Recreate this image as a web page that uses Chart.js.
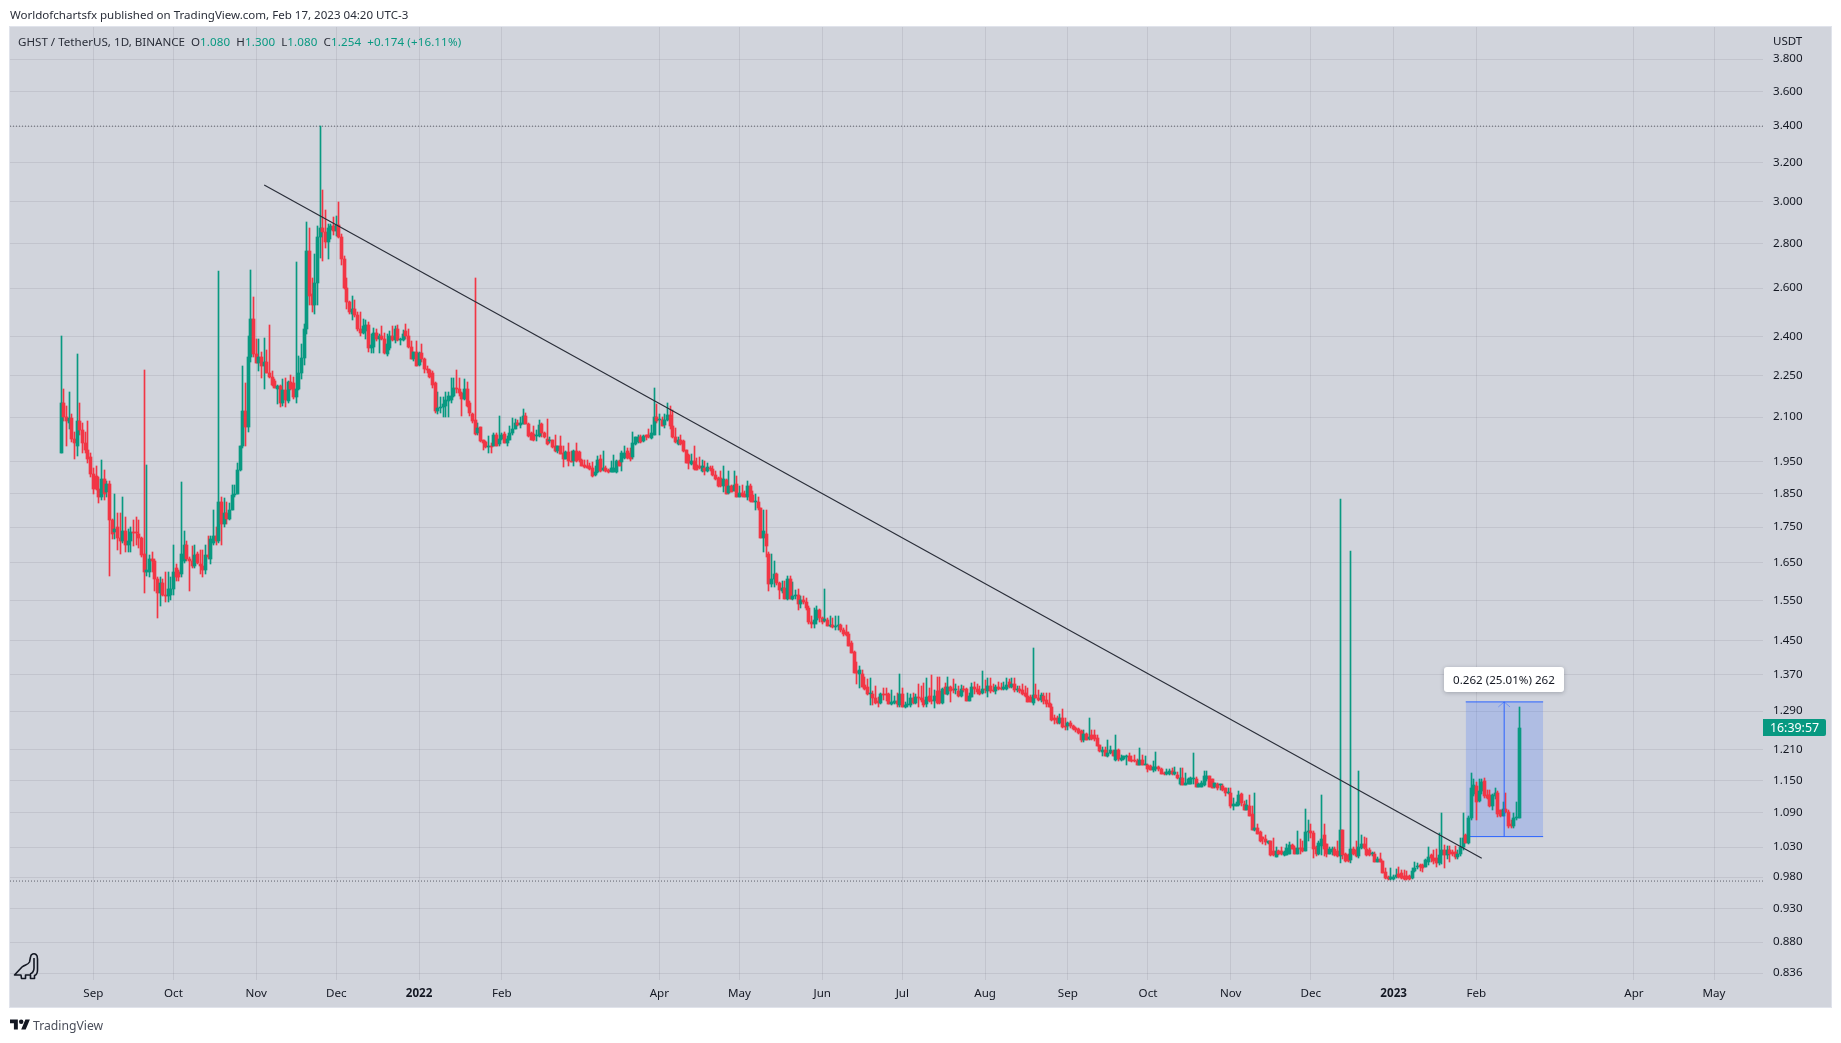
<!DOCTYPE html>
<html><head><meta charset="utf-8">
<script src="https://cdn.jsdelivr.net/npm/chart.js@4/dist/chart.umd.min.js"></script>
<style>
html,body{margin:0;padding:0;background:#fff;width:1841px;height:1043px;overflow:hidden;font-family:"Noto Sans",sans-serif;color:#131722}
#pane{position:absolute;left:10px;top:27px;width:1821px;height:980px;background:#D1D4DC;box-shadow:0 0 0 1px #E0E3EB}
canvas{position:absolute;left:0;top:0}
.t{position:absolute;white-space:pre;font-size:11.55px;line-height:16px}
.g{color:#089981;letter-spacing:.12px}
#tag{position:absolute;left:1763px;top:719px;width:63px;height:17px;background:#089981;color:#fff;border-radius:0 2px 2px 0;font-size:12.4px;line-height:17px;text-align:center}
#mbox{position:absolute;left:1444px;top:667px;width:120px;height:25px;background:#fff;border-radius:3px;box-shadow:0 1px 4px rgba(19,23,34,.25);font-size:11.6px;line-height:25px;text-align:center}
svg{position:absolute;left:0;top:0}
</style></head><body>
<div id="pane"></div>
<canvas id="c" width="1841" height="1043"></canvas>
<div class="t" style="left:10px;top:7px;color:#2a2e39">Worldofchartsfx published on TradingView.com, Feb 17, 2023 04:20 UTC-3</div>
<div class="t" style="left:18px;top:34px;color:#2a2e39;font-size:11.6px">GHST / TetherUS, 1D, BINANCE  O<span class="g">1.080</span>  H<span class="g">1.300</span>  L<span class="g">1.080</span>  C<span class="g">1.254</span>  <span class="g">+0.174 (+16.11%)</span></div>
<div class="t" style="left:1773px;top:33px;color:#131722">USDT</div>
<div id="tag">16:39:57</div>
<div id="mbox">0.262 (25.01%) 262</div>
<div class="t" style="left:33px;top:1017px;font-size:12.2px;line-height:18px;color:#4a4e5a">TradingView</div>
<svg width="1841" height="1043" viewBox="0 0 1841 1043" fill="none">
<path d="M14.5 975 L22 967 C25 964.5 28 965 29.5 962 L30.5 957 C31 954 34 953 36 954.5 C37.5 955.5 37.5 957 37.5 959 L37.5 970 C37.5 973 36 975 34.5 975.5 L34.5 978.5 L30.5 978.5 L30.5 975 L25.5 975 L25.5 978.5 L21.5 978.5 L21 975 Z M34 958 L34 968 C34 971 32.5 973 30 974" stroke="#131722" stroke-width="1.6" stroke-linejoin="round"/>
<g transform="translate(10,1017.2) scale(0.56)" fill="#131722"><path d="M14 22H7V11H0V4h14v18zM28 22h-8l7.5-18h8L28 22z"/><circle cx="20" cy="8" r="4"/></g>
</svg>
<script>
const aug21=[[1.98,2.40,1.98,2.15],[2.15,2.20,2.085,2.10],[2.10,2.14,2.00,2.085],[2.08,2.19,2.06,2.095],[2.095,2.11,2.015,2.025],[2.025,2.05,1.96,2.01],[2.00,2.33,1.97,2.085],[2.085,2.15,2.04,2.055],[2.055,2.08,1.98,2.01],[2.01,2.05,1.98,1.99],[1.99,2.085,1.945,1.96],[1.966,1.98,1.90,1.91]];
const sep21=[[1.91,1.93,1.85,1.865],[1.905,1.935,1.86,1.865],[1.865,1.90,1.82,1.84],[1.84,1.955,1.83,1.895],[1.895,1.925,1.83,1.85],[1.855,1.89,1.84,1.88],[1.88,1.89,1.615,1.77],[1.77,1.775,1.715,1.73],[1.735,1.85,1.715,1.745],[1.75,1.79,1.685,1.72],[1.72,1.79,1.675,1.71],[1.71,1.84,1.705,1.74],[1.74,1.78,1.68,1.70],[1.70,1.745,1.68,1.71],[1.71,1.75,1.68,1.735],[1.735,1.77,1.695,1.733],[1.735,1.78,1.70,1.732],[1.73,1.77,1.69,1.72],[1.72,1.722,1.665,1.67],[1.675,2.27,1.57,1.625],[1.625,1.94,1.615,1.63],[1.625,1.67,1.61,1.66],[1.66,1.68,1.625,1.655],[1.655,1.66,1.575,1.605],[1.605,1.61,1.505,1.57],[1.57,1.61,1.535,1.595],[1.595,1.605,1.56,1.565],[1.565,1.625,1.545,1.56],[1.56,1.625,1.545,1.58],[1.565,1.61,1.55,1.58]];
const oct21=[[1.58,1.70,1.565,1.625],[1.635,1.645,1.60,1.61],[1.625,1.63,1.60,1.61],[1.62,1.885,1.61,1.675],[1.655,1.74,1.65,1.70],[1.70,1.71,1.655,1.66],[1.66,1.665,1.575,1.655],[1.655,1.695,1.635,1.64],[1.64,1.70,1.635,1.67],[1.675,1.68,1.645,1.65],[1.645,1.685,1.62,1.64],[1.64,1.685,1.61,1.63],[1.63,1.70,1.62,1.67],[1.67,1.725,1.66,1.665],[1.66,1.725,1.645,1.715],[1.705,1.80,1.70,1.725],[1.725,1.75,1.70,1.71],[1.71,2.675,1.705,1.825],[1.825,1.84,1.70,1.76],[1.76,1.835,1.75,1.79],[1.79,1.825,1.76,1.775],[1.775,1.82,1.77,1.80],[1.80,1.875,1.80,1.845],[1.845,1.875,1.84,1.85],[1.85,1.945,1.85,1.925],[1.925,2.00,1.92,2.00],[2.00,2.285,1.995,2.12],[2.12,2.22,2.00,2.065],[2.065,2.40,2.05,2.32],[2.32,2.68,2.30,2.47],[2.47,2.56,2.32,2.33]];
const nov21=[[2.33,2.39,2.295,2.295],[2.295,2.39,2.265,2.32],[2.32,2.34,2.24,2.285],[2.285,2.395,2.20,2.30],[2.30,2.345,2.26,2.26],[2.26,2.445,2.24,2.245],[2.245,2.265,2.21,2.215],[2.23,2.235,2.205,2.205],[2.20,2.215,2.145,2.21],[2.21,2.215,2.135,2.15],[2.15,2.235,2.14,2.195],[2.195,2.24,2.135,2.16],[2.155,2.23,2.15,2.225],[2.225,2.25,2.195,2.20],[2.22,2.245,2.165,2.17],[2.17,2.715,2.15,2.20],[2.20,2.325,2.195,2.26],[2.26,2.37,2.235,2.315],[2.315,2.45,2.29,2.43],[2.43,2.90,2.41,2.765],[2.765,2.87,2.53,2.565],[2.575,2.645,2.50,2.53],[2.53,2.75,2.49,2.62],[2.62,2.88,2.53,2.83],[2.83,3.40,2.735,2.87],[2.87,3.06,2.72,2.855],[2.855,2.96,2.78,2.805],[2.805,2.89,2.73,2.87],[2.865,2.89,2.82,2.88],[2.88,2.925,2.84,2.86]];
const dec21=[[2.86,2.93,2.835,2.885],[2.885,3.00,2.825,2.83],[2.83,2.845,2.70,2.73],[2.73,2.74,2.595,2.60],[2.60,2.645,2.51,2.54],[2.54,2.545,2.49,2.50],[2.49,2.565,2.465,2.51],[2.51,2.55,2.48,2.485],[2.485,2.50,2.42,2.43],[2.43,2.50,2.40,2.415],[2.415,2.47,2.41,2.44],[2.42,2.465,2.39,2.445],[2.445,2.46,2.34,2.355],[2.355,2.41,2.335,2.365],[2.36,2.435,2.335,2.415],[2.415,2.43,2.38,2.39],[2.39,2.41,2.335,2.40],[2.40,2.44,2.385,2.39],[2.39,2.415,2.33,2.335],[2.33,2.41,2.325,2.37],[2.355,2.42,2.345,2.40],[2.40,2.44,2.38,2.385],[2.385,2.44,2.375,2.43],[2.43,2.445,2.38,2.385],[2.385,2.395,2.365,2.39],[2.385,2.425,2.38,2.41],[2.42,2.45,2.39,2.40],[2.40,2.43,2.355,2.36],[2.36,2.38,2.31,2.31],[2.31,2.34,2.305,2.34],[2.34,2.38,2.285,2.285]];
const jan22=[[2.29,2.34,2.285,2.335],[2.335,2.37,2.30,2.31],[2.31,2.315,2.26,2.275],[2.275,2.285,2.26,2.27],[2.27,2.275,2.24,2.245],[2.26,2.265,2.205,2.215],[2.22,2.225,2.115,2.12],[2.12,2.19,2.11,2.13],[2.13,2.17,2.115,2.135],[2.135,2.17,2.10,2.145],[2.14,2.19,2.10,2.16],[2.155,2.19,2.10,2.175],[2.16,2.24,2.15,2.175],[2.175,2.24,2.17,2.205],[2.205,2.27,2.185,2.20],[2.20,2.24,2.175,2.185],[2.185,2.19,2.105,2.165],[2.165,2.235,2.16,2.20],[2.20,2.225,2.135,2.14],[2.15,2.155,2.105,2.115],[2.11,2.115,2.08,2.085],[2.09,2.645,2.038,2.043],[2.046,2.08,2.04,2.062],[2.065,2.066,2.016,2.018],[2.02,2.02,1.987,2.012],[2.016,2.018,1.996,1.998],[1.998,2.035,1.98,2.003],[2.0,2.012,1.98,1.998],[2.0,2.046,2.0,2.04],[2.04,2.046,2.0,2.003],[2.007,2.103,2.0,2.026]];
const feb22=[[2.026,2.045,2.02,2.04],[2.043,2.05,2.01,2.012],[2.012,2.035,2.0,2.026],[2.023,2.07,2.02,2.046],[2.046,2.095,2.04,2.06],[2.06,2.092,2.058,2.08],[2.08,2.09,2.068,2.073],[2.074,2.10,2.062,2.08],[2.077,2.127,2.075,2.103],[2.103,2.115,2.075,2.077],[2.077,2.08,2.03,2.035],[2.046,2.05,2.02,2.023],[2.043,2.068,2.018,2.023],[2.035,2.057,2.018,2.04],[2.035,2.088,2.03,2.073],[2.077,2.08,2.03,2.046],[2.046,2.05,2.028,2.03],[2.026,2.093,2.005,2.009],[2.017,2.03,2.01,2.02],[2.02,2.02,1.995,1.998],[2.0,2.04,1.983,1.985],[1.985,2.002,1.98,2.0],[2.0,2.035,1.975,1.975],[1.978,2.0,1.933,1.96],[1.96,1.985,1.958,1.983],[1.983,2.01,1.935,1.951],[1.952,1.985,1.948,1.949],[1.951,1.988,1.935,1.984]];
const mar22=[[1.984,2.01,1.948,1.951],[1.982,1.985,1.95,1.955],[1.957,1.96,1.935,1.937],[1.94,1.955,1.929,1.932],[1.937,1.955,1.929,1.931],[1.935,1.945,1.925,1.927],[1.93,1.95,1.90,1.905],[1.907,1.935,1.905,1.917],[1.917,1.97,1.915,1.957],[1.96,1.972,1.918,1.92],[1.925,1.984,1.92,1.93],[1.93,1.935,1.918,1.92],[1.925,1.928,1.914,1.916],[1.917,1.951,1.916,1.929],[1.917,1.972,1.916,1.929],[1.917,1.955,1.915,1.951],[1.951,1.955,1.935,1.937],[1.948,1.984,1.92,1.978],[1.962,2.0,1.96,1.98],[1.984,1.995,1.96,1.962],[1.98,1.995,1.951,1.96],[1.965,2.048,1.96,2.01],[2.008,2.032,2.005,2.03],[2.015,2.038,2.012,2.03],[2.03,2.04,2.012,2.015],[2.018,2.038,2.015,2.035],[2.038,2.04,2.02,2.032],[2.038,2.059,2.028,2.03],[2.028,2.073,2.026,2.045],[2.04,2.204,2.038,2.10],[2.10,2.145,2.08,2.085]];
const apr22=[[2.088,2.11,2.04,2.093],[2.09,2.10,2.068,2.07],[2.072,2.112,2.062,2.09],[2.088,2.15,2.085,2.107],[2.107,2.14,2.06,2.068],[2.068,2.123,2.028,2.03],[2.03,2.062,2.013,2.015],[2.007,2.03,2.005,2.02],[2.02,2.04,2.005,2.007],[2.017,2.02,1.982,1.984],[1.987,1.99,1.945,1.946],[1.972,1.975,1.928,1.946],[1.942,1.975,1.94,1.951],[1.951,2.0,1.925,1.927],[1.94,1.962,1.923,1.925],[1.935,1.967,1.928,1.93],[1.92,1.955,1.918,1.935],[1.93,1.951,1.907,1.92],[1.92,1.946,1.918,1.933],[1.93,1.935,1.92,1.928],[1.927,1.937,1.905,1.909],[1.909,1.92,1.893,1.895],[1.898,1.90,1.87,1.872],[1.898,1.92,1.87,1.872],[1.872,1.935,1.856,1.896],[1.893,1.895,1.848,1.85],[1.852,1.92,1.85,1.874],[1.874,1.876,1.855,1.856],[1.859,1.92,1.857,1.877],[1.879,1.903,1.838,1.84]];
const may22=[[1.84,1.872,1.838,1.852],[1.853,1.875,1.84,1.843],[1.85,1.857,1.838,1.84],[1.84,1.89,1.83,1.872],[1.872,1.88,1.825,1.828],[1.845,1.858,1.825,1.825],[1.825,1.85,1.80,1.828],[1.825,1.84,1.80,1.805],[1.805,1.807,1.72,1.72],[1.72,1.80,1.68,1.74],[1.73,1.80,1.665,1.695],[1.675,1.68,1.573,1.593],[1.593,1.675,1.585,1.605],[1.605,1.655,1.585,1.62],[1.62,1.622,1.59,1.595],[1.595,1.597,1.553,1.577],[1.573,1.60,1.57,1.583],[1.583,1.60,1.553,1.553],[1.553,1.613,1.552,1.605],[1.605,1.615,1.553,1.553],[1.553,1.598,1.552,1.56],[1.56,1.577,1.553,1.562],[1.565,1.58,1.525,1.54],[1.54,1.56,1.53,1.552],[1.552,1.56,1.54,1.545],[1.545,1.557,1.525,1.53],[1.53,1.535,1.49,1.495],[1.495,1.51,1.48,1.49],[1.49,1.53,1.48,1.50],[1.50,1.535,1.49,1.525],[1.525,1.527,1.495,1.505]];
const jun22=[[1.505,1.508,1.49,1.495],[1.498,1.58,1.495,1.502],[1.50,1.505,1.485,1.485],[1.485,1.51,1.483,1.487],[1.487,1.505,1.48,1.482],[1.482,1.51,1.475,1.485],[1.485,1.51,1.475,1.487],[1.487,1.49,1.47,1.475],[1.475,1.48,1.46,1.465],[1.47,1.487,1.46,1.463],[1.465,1.47,1.437,1.437],[1.445,1.45,1.42,1.42],[1.423,1.425,1.375,1.375],[1.378,1.40,1.35,1.375],[1.373,1.39,1.34,1.38],[1.373,1.38,1.343,1.343],[1.348,1.365,1.335,1.338],[1.343,1.36,1.325,1.328],[1.328,1.362,1.303,1.328],[1.328,1.333,1.303,1.318],[1.318,1.345,1.306,1.308],[1.313,1.32,1.30,1.308],[1.308,1.33,1.305,1.328],[1.328,1.34,1.315,1.326],[1.326,1.34,1.312,1.325],[1.328,1.33,1.305,1.305],[1.305,1.335,1.303,1.309],[1.308,1.323,1.305,1.313],[1.313,1.33,1.30,1.306],[1.303,1.373,1.298,1.328]];
const jul22=[[1.328,1.34,1.298,1.298],[1.298,1.31,1.297,1.303],[1.303,1.33,1.298,1.305],[1.303,1.327,1.30,1.318],[1.318,1.33,1.305,1.308],[1.308,1.327,1.305,1.321],[1.32,1.35,1.298,1.318],[1.318,1.345,1.31,1.315],[1.315,1.352,1.30,1.303],[1.306,1.363,1.30,1.321],[1.323,1.34,1.31,1.313],[1.315,1.37,1.305,1.313],[1.313,1.335,1.297,1.323],[1.333,1.365,1.305,1.308],[1.333,1.365,1.305,1.308],[1.308,1.34,1.305,1.338],[1.343,1.352,1.328,1.328],[1.328,1.365,1.325,1.343],[1.343,1.345,1.31,1.333],[1.338,1.36,1.33,1.336],[1.335,1.35,1.328,1.338],[1.333,1.345,1.32,1.323],[1.323,1.347,1.32,1.338],[1.338,1.345,1.332,1.336],[1.338,1.34,1.312,1.313],[1.313,1.33,1.312,1.323],[1.321,1.352,1.32,1.343],[1.343,1.353,1.328,1.338],[1.338,1.35,1.328,1.331],[1.333,1.345,1.326,1.328],[1.33,1.378,1.328,1.338]];
const aug22=[[1.338,1.358,1.33,1.335],[1.333,1.364,1.32,1.346],[1.346,1.362,1.33,1.333],[1.336,1.35,1.331,1.333],[1.333,1.348,1.328,1.343],[1.343,1.355,1.335,1.338],[1.34,1.352,1.335,1.338],[1.338,1.353,1.335,1.343],[1.338,1.363,1.335,1.348],[1.353,1.36,1.34,1.343],[1.343,1.363,1.34,1.35],[1.35,1.363,1.332,1.335],[1.335,1.345,1.332,1.338],[1.338,1.345,1.33,1.333],[1.335,1.35,1.325,1.328],[1.33,1.345,1.32,1.323],[1.323,1.34,1.31,1.31],[1.32,1.325,1.31,1.31],[1.308,1.433,1.303,1.325],[1.325,1.35,1.318,1.318],[1.318,1.335,1.313,1.315],[1.315,1.33,1.31,1.324],[1.322,1.33,1.305,1.312],[1.315,1.33,1.30,1.305],[1.307,1.33,1.30,1.30],[1.30,1.305,1.27,1.272],[1.276,1.282,1.263,1.272],[1.275,1.28,1.263,1.265],[1.265,1.285,1.263,1.276],[1.276,1.295,1.255,1.257],[1.258,1.275,1.25,1.257]];
const sep22=[[1.258,1.268,1.251,1.265],[1.265,1.27,1.255,1.258],[1.258,1.26,1.25,1.252],[1.255,1.257,1.247,1.25],[1.252,1.255,1.243,1.245],[1.248,1.25,1.226,1.23],[1.23,1.25,1.225,1.243],[1.243,1.245,1.23,1.23],[1.232,1.276,1.229,1.237],[1.24,1.25,1.23,1.232],[1.24,1.25,1.228,1.231],[1.233,1.24,1.217,1.217],[1.219,1.22,1.205,1.207],[1.206,1.215,1.197,1.209],[1.209,1.215,1.197,1.197],[1.198,1.23,1.195,1.203],[1.203,1.217,1.202,1.209],[1.208,1.21,1.197,1.197],[1.19,1.24,1.188,1.21],[1.209,1.212,1.188,1.192],[1.19,1.20,1.187,1.193],[1.192,1.198,1.189,1.197],[1.196,1.20,1.18,1.198],[1.198,1.203,1.188,1.188],[1.189,1.198,1.186,1.187],[1.189,1.20,1.186,1.187],[1.188,1.192,1.18,1.18],[1.18,1.213,1.18,1.189],[1.189,1.20,1.18,1.18],[1.179,1.197,1.179,1.18]];
const oct22=[[1.18,1.182,1.167,1.172],[1.178,1.18,1.171,1.171],[1.171,1.187,1.167,1.176],[1.172,1.206,1.169,1.176],[1.176,1.178,1.168,1.172],[1.173,1.175,1.163,1.163],[1.165,1.167,1.161,1.162],[1.162,1.172,1.161,1.166],[1.163,1.172,1.16,1.168],[1.169,1.175,1.16,1.162],[1.162,1.176,1.16,1.166],[1.16,1.166,1.153,1.155],[1.143,1.175,1.142,1.155],[1.155,1.175,1.142,1.142],[1.142,1.165,1.142,1.145],[1.144,1.155,1.143,1.152],[1.144,1.157,1.143,1.155],[1.152,1.203,1.143,1.153],[1.153,1.157,1.138,1.138],[1.138,1.145,1.137,1.144],[1.138,1.15,1.137,1.145],[1.142,1.168,1.14,1.158],[1.152,1.168,1.15,1.158],[1.158,1.159,1.138,1.138],[1.152,1.153,1.136,1.136],[1.137,1.146,1.135,1.146],[1.144,1.146,1.133,1.136],[1.141,1.144,1.133,1.143],[1.14,1.143,1.13,1.132],[1.135,1.136,1.12,1.126],[1.126,1.135,1.124,1.127]];
const nov22=[[1.127,1.135,1.098,1.102],[1.103,1.118,1.095,1.107],[1.103,1.11,1.102,1.107],[1.104,1.13,1.103,1.123],[1.125,1.127,1.103,1.108],[1.107,1.112,1.095,1.095],[1.095,1.113,1.095,1.104],[1.103,1.123,1.085,1.085],[1.088,1.103,1.06,1.06],[1.06,1.126,1.058,1.063],[1.063,1.07,1.053,1.053],[1.056,1.058,1.038,1.04],[1.047,1.047,1.036,1.043],[1.043,1.05,1.034,1.038],[1.037,1.04,1.035,1.04],[1.04,1.04,1.015,1.017],[1.023,1.045,1.015,1.017],[1.014,1.03,1.014,1.024],[1.024,1.025,1.017,1.018],[1.024,1.03,1.017,1.018],[1.017,1.024,1.015,1.022],[1.017,1.035,1.016,1.028],[1.018,1.038,1.018,1.034],[1.034,1.036,1.027,1.027],[1.028,1.032,1.018,1.018],[1.018,1.058,1.018,1.028],[1.028,1.044,1.018,1.027],[1.028,1.04,1.022,1.024],[1.024,1.097,1.024,1.056],[1.056,1.077,1.04,1.058]];
const dec22=[[1.058,1.07,1.045,1.055],[1.055,1.057,1.012,1.027],[1.03,1.032,1.015,1.018],[1.019,1.04,1.017,1.037],[1.032,1.123,1.017,1.044],[1.05,1.07,1.015,1.027],[1.035,1.036,1.013,1.018],[1.018,1.03,1.018,1.026],[1.022,1.03,1.016,1.026],[1.027,1.03,1.015,1.016],[1.024,1.04,1.014,1.015],[1.015,1.833,1.003,1.059],[1.059,1.06,1.01,1.016],[1.019,1.02,1.005,1.007],[1.016,1.018,1.005,1.007],[1.008,1.683,1.003,1.026],[1.026,1.03,1.016,1.018],[1.025,1.04,1.014,1.015],[1.015,1.168,1.012,1.03],[1.028,1.05,1.027,1.036],[1.035,1.048,1.027,1.028],[1.027,1.045,1.015,1.016],[1.025,1.028,1.015,1.016],[1.018,1.022,1.015,1.019],[1.019,1.022,1.005,1.005],[1.005,1.014,1.005,1.009],[1.009,1.02,1.004,1.005],[1.006,1.007,0.987,0.987],[0.988,0.995,0.977,0.978],[0.98,0.982,0.976,0.977],[0.977,0.995,0.976,0.98]];
const jan23=[[0.977,0.983,0.976,0.98],[0.98,0.993,0.978,0.984],[0.985,0.996,0.978,0.98],[0.986,0.992,0.977,0.979],[0.982,0.992,0.976,0.977],[0.982,0.99,0.975,0.977],[0.982,0.983,0.975,0.977],[0.979,0.995,0.977,0.99],[0.99,1.005,0.989,0.995],[0.996,1.003,0.993,0.998],[1.0,1.002,0.99,0.997],[1.0,1.002,0.988,0.995],[0.997,1.01,0.996,1.008],[1.005,1.03,1.0,1.014],[1.016,1.018,1.005,1.011],[1.012,1.025,1.002,1.007],[1.011,1.027,0.996,1.003],[1.003,1.055,1.0,1.016],[1.016,1.09,1.002,1.025],[1.025,1.033,0.995,1.016],[1.017,1.032,1.01,1.025],[1.025,1.032,1.004,1.019],[1.022,1.025,1.015,1.018],[1.021,1.032,1.01,1.013],[1.013,1.025,1.01,1.019],[1.018,1.045,1.015,1.03],[1.03,1.09,1.025,1.046],[1.05,1.052,1.037,1.037],[1.037,1.085,1.036,1.08],[1.08,1.164,1.078,1.135],[1.125,1.152,1.12,1.142]];
const feb23=[[1.14,1.147,1.077,1.11],[1.111,1.153,1.11,1.13],[1.13,1.153,1.125,1.147],[1.15,1.155,1.117,1.12],[1.122,1.132,1.116,1.118],[1.122,1.132,1.10,1.103],[1.103,1.125,1.095,1.122],[1.12,1.135,1.115,1.127],[1.127,1.131,1.083,1.088],[1.095,1.095,1.082,1.085],[1.085,1.11,1.084,1.097],[1.097,1.127,1.09,1.092],[1.092,1.095,1.063,1.067],[1.07,1.078,1.063,1.066],[1.066,1.09,1.063,1.08],[1.08,1.11,1.078,1.083],[1.08,1.30,1.08,1.254]];

const priceTicks=[3.8,3.6,3.4,3.2,3.0,2.8,2.6,2.4,2.25,2.1,1.95,1.85,1.75,1.65,1.55,1.45,1.37,1.29,1.21,1.15,1.09,1.03,0.98,0.93,0.88,0.836];
const monthLabels=['Sep','Oct','Nov','Dec','2022','Feb','Apr','May','Jun','Jul','Aug','Sep','Oct','Nov','Dec','2023','Feb','Apr','May'];
const monthDays=[12,42,73,103,134,165,224,254,285,315,346,377,407,438,468,499,530,589,619];
const trendDays=[76,532];
const trendPrices=[3.084,1.011];
const resistance=3.4;
const support=0.9736;
const measureDays=[526,555];
const measureMid=540.4;
const measureLow=1.048;
const measureHigh=1.31;
const arrowDays=[538.2,540.4,542.6];
const arrowPrices=[1.299,1.31,1.299];

const candles=[...aug21,...sep21,...oct21,...nov21,...dec21,...jan22,...feb22,...mar22,...apr22,...may22,...jun22,...jul22,...aug22,...sep22,...oct22,...nov22,...dec22,...jan23,...feb23];
const UP='#089981',DOWN='#F23645';
const colors=candles.map(c=>c[3]>=c[0]?UP:DOWN);
const xMin=-19.21,xMax=637.34;
const line=(pts,color,extra)=>Object.assign({type:'line',data:pts,borderColor:color,borderWidth:1,pointRadius:0,fill:false,tension:0,parsing:{xAxisKey:'x',yAxisKey:'y'}},extra||{});
const grid='rgba(42,46,57,0.09)';
Chart.defaults.font.family='"Noto Sans",sans-serif';
const isYear=v=>/^20/.test(monthLabels[monthDays.indexOf(v)]||'');
const crispBars={id:'crispBars',beforeDatasetDraw(chart,args){
  const meta=args.meta;
  if(meta.type!=='bar')return;
  meta.data.forEach(el=>{el.x=Math.floor(el.x)+0.5;el.y=Math.round(el.y);el.base=Math.round(el.base);if(el.base===el.y)el.base=el.y+1;});
}};
new Chart(document.getElementById('c'),{
  type:'bar',
  plugins:[crispBars],
  data:{datasets:[
    line([{x:trendDays[0],y:trendPrices[0]},{x:trendDays[1],y:trendPrices[1]}],'#2a2e39',{order:0,borderWidth:1.2}),
    line([{x:measureMid,y:measureLow},{x:measureMid,y:measureHigh}],'#2962FF',{order:1}),
    line(arrowDays.map((d,k)=>({x:d,y:arrowPrices[k]})),'rgba(41,98,255,0.45)',{order:1}),
    {type:'bar',data:candles.map((c,i)=>({x:i,y:[c[0],c[3]]})),backgroundColor:colors,barThickness:3,minBarLength:1,grouped:false,order:2},
    {type:'bar',data:candles.map((c,i)=>({x:i,y:[c[2],c[1]]})),backgroundColor:colors,barThickness:1,grouped:false,order:3},
    line(measureDays.map(d=>({x:d,y:measureHigh})),'#2962FF',{order:4,fill:{target:{value:measureLow}},backgroundColor:'rgba(41,98,255,0.2)'}),
    line(measureDays.map(d=>({x:d,y:measureLow})),'#2962FF',{order:4}),
    line([{x:xMin,y:resistance},{x:xMax,y:resistance}],'#5d606b',{order:5,borderDash:[1,2]}),
    line([{x:xMin,y:support},{x:xMax,y:support}],'#5d606b',{order:5,borderDash:[1,2]})
  ]},
  options:{
    responsive:false,animation:false,events:[],
    layout:{padding:{left:10,top:27,right:10,bottom:36}},
    plugins:{legend:{display:false},tooltip:{enabled:false},title:{display:false}},
    scales:{
      x:{type:'linear',min:xMin,max:xMax,offset:false,
        afterBuildTicks(s){s.ticks=monthDays.map(v=>({value:v}));},
        afterFit(s){s.height=27;},
        grid:{color:grid,drawTicks:false,lineWidth:1,offset:false},border:{display:false},
        ticks:{autoSkip:false,maxRotation:0,padding:7,color:'#131722',
          font:c=>({size:11.6,weight:c.tick&&isYear(c.tick.value)?'bold':'normal'}),
          callback:v=>monthLabels[monthDays.indexOf(v)]}},
      y:{type:'logarithmic',position:'right',min:0.8264,max:4.007,
        afterBuildTicks(s){s.ticks=priceTicks.map(v=>({value:v}));},
        afterFit(s){s.width=68;},
        grid:{color:grid,drawTicks:false,lineWidth:1},border:{display:false},
        ticks:{autoSkip:false,padding:10,color:'#131722',font:{size:11.6},callback:v=>v.toFixed(3)}}
    }
  }
});
</script>
</body></html>
